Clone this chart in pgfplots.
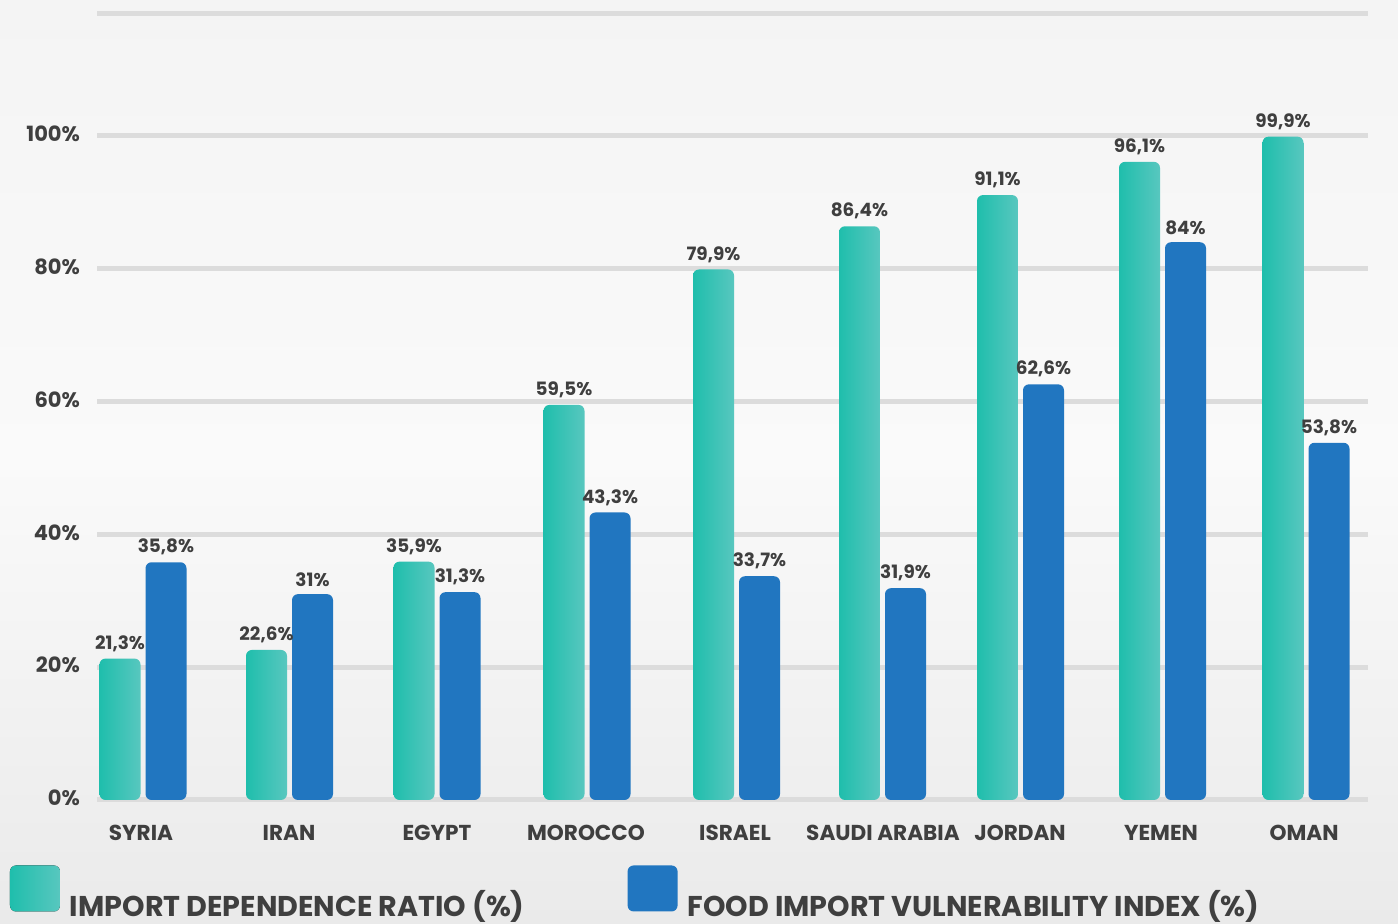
\documentclass[border=0pt]{standalone}
\usepackage{pgfplots}
\pgfplotsset{compat=1.18}
\usepackage{pgfplotstable}
\usepackage{fontspec}
\setmainfont{Poppins}
\definecolor{tealL}{HTML}{1FBEAC}
\definecolor{tealR}{HTML}{58C7BF}
\definecolor{blueB}{HTML}{2176C0}
\definecolor{txt}{HTML}{3F3F3F}
\definecolor{gridc}{HTML}{DCDCDC}
\definecolor{bgtop}{HTML}{F4F4F4}
\definecolor{bgmid}{HTML}{FAFAFA}
\definecolor{bgbot}{HTML}{EAEAEA}

\pgfplotstableread{
x a b la lb
143 21.3 35.8 21,3 35,8
289.5 22.6 31 22,6 31
437 35.9 31.3 35,9 31,3
587 59.5 43.3 59,5 43,3
736.5 79.9 33.7 79,9 33,7
882.5 86.4 31.9 86,4 31,9
1020.5 91.1 62.6 91,1 62,6
1162.5 96.1 84 96,1 84
1306 99.9 53.8 99,9 53,8
}\data

\pgfplotsset{
  tealbar/.style={draw=none, left color=tealL, right color=tealR, rounded corners=3pt},
  bluebar/.style={draw=none, fill=blueB, rounded corners=3pt},
}

\begin{document}
\begin{tikzpicture}[x=1pt,y=1pt]
\useasboundingbox (0,0) rectangle (699,462);
\shade[top color=bgtop, bottom color=bgbot, middle color=bgmid] (0,0) rectangle (699,462);
\begin{axis}[
  at={(48.5pt,62pt)}, anchor=south west,
  scale only axis, width=635.5pt, height=393pt,
  xmin=97, xmax=1368, ymin=0, ymax=118.373,
  axis line style={draw=none},
  major tick length=0pt,
  ytick={0,20,40,60,80,100},
  yticklabels={0\%,20\%,40\%,60\%,80\%,100\%},
  yticklabel style={font=\bfseries\fontsize{10.5}{11}\selectfont, text=txt, anchor=east, xshift=-5pt, yshift=1pt},
  ymajorgrids,
  major grid style={gridc, line width=2.5pt},
  extra y ticks={118.373}, extra y tick labels={},
  extra y tick style={grid=major, major grid style={gridc, line width=2.5pt}},
  xtick={141,289,437,586,735,883,1020,1161,1304},
  xticklabels={SYRIA,IRAN,EGYPT,MOROCCO,ISRAEL,SAUDI ARABIA,JORDAN,YEMEN,OMAN},
  xticklabel style={font=\bfseries\fontsize{10.8}{12}\selectfont, text=txt, anchor=base, yshift=-20.5pt},
  /pgf/number format/assume math mode=true,
  ybar, bar width=41,
  point meta=explicit symbolic,
  nodes near coords={\pgfplotspointmeta\%},
  every node near coord/.append style={font=\bfseries\fontsize{9.2}{10}\selectfont, text=txt},
  clip=false,
  legend style={at={(-0.06845,-0.12595)}, anchor=west, draw=none, fill=none,
    inner sep=0pt, outer sep=0pt,
    legend columns=2,
    font=\bfseries\fontsize{14.3}{16}\selectfont, text=txt,
    nodes={inner sep=0pt},
    /tikz/every odd column/.append style={column sep=5pt},
    /tikz/every even column/.append style={column sep=51.5pt}},
  legend cell align=left,
  legend image code/.code={\fill[#1, rounded corners=3pt] (0pt,0pt) rectangle (25pt,23pt);},
]
\addlegendimage{tealbar}
\addlegendentry{\raisebox{6.5pt}{IMPORT DEPENDENCE RATIO (\%)}}
\pgfplotsinvokeforeach{0,...,8}{
  \addplot[tealbar, bar shift=-23, forget plot]
    table[x=x, y=a, meta=la, restrict expr to domain={\coordindex}{#1:#1}] {\data};
}
\addplot[bluebar, bar shift=23]
  table[x=x, y=b, meta=lb] {\data};
\addlegendentry{\raisebox{6.5pt}{FOOD IMPORT VULNERABILITY INDEX (\%)}}
\end{axis}
\end{tikzpicture}
\end{document}
